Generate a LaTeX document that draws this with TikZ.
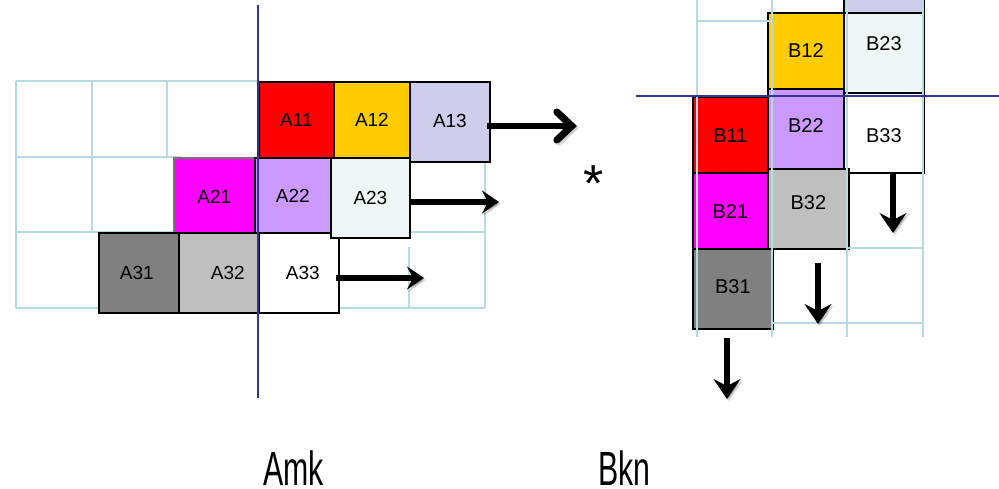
\documentclass[tikz,border=0pt]{standalone}
\usepackage{fontspec}
\setmainfont{Liberation Sans}
\usepackage{graphicx}
\usetikzlibrary{arrows.meta}

\definecolor{gridc}{RGB}{180,220,224}
\definecolor{axisblue}{RGB}{51,51,153}
\definecolor{cred}{RGB}{255,0,0}
\definecolor{cgold}{RGB}{255,204,0}
\definecolor{clav}{RGB}{206,206,236}
\definecolor{cmag}{RGB}{255,0,255}
\definecolor{clilac}{RGB}{204,153,255}
\definecolor{cpale}{RGB}{238,246,248}
\definecolor{cdark}{RGB}{128,128,128}
\definecolor{csilver}{RGB}{191,191,191}

\begin{document}
\begin{tikzpicture}[x=1pt,y=-1pt,
  grid/.style={draw=gridc, line width=1.3pt},
  cell/.style={draw=black, line width=1.8pt, inner sep=0pt, anchor=north west},
  tag/.style={font=\fontsize{19}{19}\selectfont, inner sep=0pt},
  btag/.style={font=\fontsize{20}{20}\selectfont, inner sep=0pt},
  axis/.style={draw=axisblue, line width=1.4pt},
  shade/.style={preaction={draw=black, opacity=0.18, transform canvas={shift={(1.8pt,-2pt)}}}},
  rarrow/.style={shade, line width=6.5pt, -{Straight Barb[length=15pt,width=28pt,line width=7pt,line cap=round]}},
  farrow/.style={shade, line width=6.5pt, -{Stealth[length=17pt,width=23pt,inset=6pt]}},
  darrow/.style={shade, line width=6pt, -{Stealth[length=20pt,width=27pt,inset=7pt]}},
  caption/.style={font=\fontsize{48}{48}\selectfont, inner sep=0pt, anchor=base west}
]
\useasboundingbox (0,0) rectangle (999,489);

% ---------- background grid of A ----------
\draw[grid] (16,81) -- (258,81);
\draw[grid] (16,157) -- (182,157);
\draw[grid] (16,232) -- (485,232);
\draw[grid] (16,308) -- (485,308);
\draw[grid] (16,81) -- (16,308);
\draw[grid] (92,81) -- (92,232);
\draw[grid] (167,81) -- (167,157);
\draw[grid] (409,247) -- (409,308);
\draw[grid] (485,81) -- (485,308);

% ---------- blocks of A ----------
\node[cell, fill=cmag, draw=black!55, minimum width=81, minimum height=75,
      label={[tag, yshift=-1.5pt]center:A21}] (a21) at (173,157) {};
\node[cell, fill=clilac, minimum width=76, minimum height=75,
      label={[tag]center:A22}] (a22) at (254,157) {};
\node[cell, fill=cdark, minimum width=80, minimum height=80,
      label={[tag, xshift=-2pt]center:A31}] (a31) at (98,232) {};
\node[cell, fill=csilver, minimum width=80, minimum height=80,
      label={[tag, xshift=9pt]center:A32}] (a32) at (178,232) {};
\node[cell, fill=white, minimum width=80, minimum height=80,
      label={[tag, xshift=4pt]center:A33}] (a33) at (258,232) {};
\node[cell, fill=cpale, minimum width=79, minimum height=80,
      label={[tag]center:A23}] (a23) at (330,157) {};
\node[cell, fill=cred, minimum width=75, minimum height=76,
      label={[tag]center:A11}] (a11) at (258,81) {};
\node[cell, fill=cgold, minimum width=76, minimum height=76,
      label={[tag]center:A12}] (a12) at (333,81) {};
\node[cell, fill=clav, minimum width=80, minimum height=80,
      label={[tag, yshift=1pt]center:A13}] (a13) at (409,81) {};

% ---------- row arrows of A ----------
\coordinate (a13tip) at (577,126);
\coordinate (a23tip) at (499,202);
\coordinate (a33tip) at (424,278);
\draw[rarrow] ([xshift=-4pt]a13.east |- a13tip) -- (a13tip);
\draw[farrow] (a23.east |- a23tip) -- (a23tip);
\draw[farrow] ([xshift=-4pt]a33.east |- a33tip) -- (a33tip);

% ---------- product sign ----------
\node[font=\fontsize{52}{52}\selectfont, inner sep=0pt, anchor=base] (times) at (594,202) {*};

% ---------- blocks of B ----------
\node[cell, fill=clav, minimum width=80, minimum height=30] (b13) at (843,-18) {};
\node[cell, fill=cgold, minimum width=76, minimum height=76,
      label={[btag]center:B12}] (b12) at (767,12) {};
\node[cell, fill=cpale, minimum width=80, minimum height=80,
      label={[btag, yshift=9pt]center:B23}] (b23) at (843,12) {};
\node[cell, fill=cred, minimum width=75, minimum height=76,
      label={[btag, yshift=-1pt]center:B11}] (b11) at (692,96) {};
\node[cell, fill=clilac, minimum width=76, minimum height=80,
      label={[btag, yshift=3pt]center:B22}] (b22) at (767,88) {};
\node[cell, fill=white, minimum width=80, minimum height=80,
      label={[btag, yshift=-3pt]center:B33}] (b33) at (843,92) {};
\node[cell, fill=cmag, minimum width=75, minimum height=76,
      label={[btag, yshift=-1pt]center:B21}] (b21) at (692,172) {};
\node[cell, fill=csilver, minimum width=81, minimum height=80,
      label={[btag, yshift=6pt]center:B32}] (b32) at (767,168) {};
\node[cell, fill=cdark, minimum width=80, minimum height=80,
      label={[btag, yshift=2pt]center:B31}] (b31) at (692,248) {};

% ---------- grid of B, over the blocks ----------
\draw[grid] (697,0) -- (697,337);
\draw[grid] (772,0) -- (772,337);
\draw[grid] (847,0) -- (847,337);
\draw[grid] (923,0) -- (923,337);
\draw[grid] (697,21) -- (772,21);
\draw[grid] (847,248) -- (923,248);
\draw[grid] (772,323) -- (923,323);

% ---------- column arrows of B ----------
\coordinate (b33tail) at (893,172);
\coordinate (b33tip) at (893,233);
\coordinate (b32tail) at (818,263);
\coordinate (b32tip) at (818,324);
\coordinate (b31tail) at (727,338);
\coordinate (b31tip) at (727,399);
\draw[darrow] (b33tail) -- (b33tip);
\draw[darrow] (b32tail) -- (b32tip);
\draw[darrow] (b31tail) -- (b31tip);

% ---------- block boundaries ----------
\draw[axis] (258,5) -- (258,398);
\draw[axis] (636,96) -- (999,96);

% ---------- captions ----------
\node[caption] (amk) at (263,485) {\scalebox{0.63}[1]{Amk}};
\node[caption] (bkn) at (598,485) {\scalebox{0.63}[1]{Bkn}};
\end{tikzpicture}
\end{document}
